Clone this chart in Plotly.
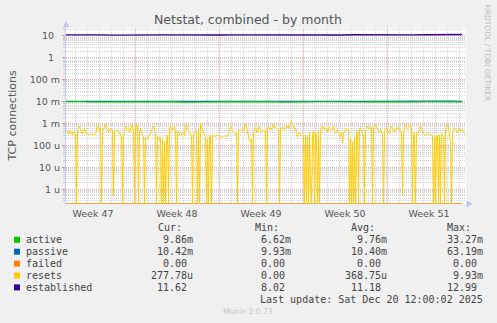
import pandas as pd
import plotly.graph_objects as go

# ------------------------------------------------------------------ data
weeks = ["Week 47", "Week 48", "Week 49", "Week 50", "Week 51"]
week_mid = ["2025-11-19 12:00", "2025-11-26 12:00", "2025-12-03 12:00",
            "2025-12-10 12:00", "2025-12-17 12:00"]
week_bounds = ["2025-11-23", "2025-11-30", "2025-12-07", "2025-12-14"]
y_tickvals = [10, 1, 0.1, 0.01, 1e-3, 1e-4, 1e-5, 1e-6]
y_ticktext = ["10\u00a0\u00a0", "1\u00a0\u00a0", "100 m", "10 m", "1 m", "100 u", "10 u", "1 u"]

t_start = pd.Timestamp("2025-11-17 06:00")
t_end = pd.Timestamp("2025-12-20 14:00")

# resets, 2-hour samples, in micro-units (u)
resets_u = [
    380, 460, 320, 400, 520, 350, 300, 420, 380, 330,          # 0-9
    0,
    450, 650, 780, 520, 400, 330, 460, 600, 380, 320, 350,     # 11-21
    320, 320, 330, 320, 320, 340, 300, 320,                    # 22-29
    500, 780, 600, 450, 650,                                   # 30-34
    0,
    400, 550, 800, 940, 700, 500, 380, 450, 600, 520,          # 36-45
    460, 0.5,
    460, 460, 460, 460, 460, 380, 300, 230,                    # 48-55
    0,
    300, 450, 780, 600, 500, 650, 400, 550, 900, 700,          # 57-66
    450, 0,
    500, 940, 700,
    0,
    400, 600, 350, 300, 250,
    0,
    220, 220, 230, 220, 300, 400, 550, 650, 780, 500,          # 79-88
    350, 0,
    260, 200, 180, 240,
    0, 200, 0, 150, 0,
    200, 300,
    0,
    600, 780, 550, 460, 650, 700, 500,
    0,
    400, 460, 320, 260, 300, 400, 350, 280,
    700, 940, 600, 450,
    450, 300, 250,
    0,
    300, 380, 500, 400,
    0, 600, 0,
    940, 700, 500, 350, 300, 250,
    0, 200, 0, 250, 300, 0,
    300, 280, 270, 260, 280, 300, 270, 260, 240, 230, 240, 260, 280, 250, 240, 300, 350,
    500, 780, 600, 450, 400,
    350, 300, 400,
    0,
    500, 550, 460, 500, 550, 450,
    650, 940, 700,
    400, 200, 157, 140, 200,
    0,
    400, 550, 650, 460, 380, 780, 600, 500, 400, 450, 500,
    450, 500,
    0,
    600, 700, 550, 650, 500, 750, 900, 650, 700, 600, 550,
    500, 0,
    650, 550, 700, 600, 650, 550, 700, 800, 600, 650, 1000,
    1300, 900,
    700, 550, 600, 300, 250, 320, 400, 320, 280, 300, 250,
    0, 300, 0, 250, 0, 400, 1.2, 0, 300, 450, 0, 400, 300, 0, 450, 0,
    500, 650, 780, 600, 550, 650, 450, 400, 600, 700, 550, 500,
    650, 780, 450, 350, 400, 550, 380, 300, 250, 400, 130, 350,
    500, 550, 600, 500, 550,
    0, 200, 0, 150, 0, 250, 0,
    300, 450,
    0,
    550, 650, 400, 350, 250,
    0,
    500, 650, 780, 600, 550, 700, 600,
    0,
    650, 800, 950, 700, 600, 450, 400, 550, 350, 300,
    0,
    450, 550, 650, 500, 400, 350, 600, 780, 550, 450, 400, 500, 650, 550, 700, 600,
    500, 400, 0.5, 300,
    700, 900, 650, 550, 600, 750, 800, 650,
    0, 400, 300, 0,
    350, 300, 450, 700, 800, 600, 400, 350, 300, 280, 320, 400, 350, 300, 280, 300,
    300, 0, 250, 0, 300, 280, 0, 300, 0, 350, 300, 250, 0, 500, 700,
    950, 700, 300, 130,
    0,
    300, 500, 650, 550, 450, 400, 550, 600, 450, 500, 550, 400, 350, 300,
]

# daily samples
active_m = [9.9, 10.2, 9.7, 9.8, 10.0, 9.6, 9.9, 9.7, 10.1, 9.8, 9.5, 9.9, 9.7, 9.8, 10.0, 9.6, 9.7,
            9.9, 9.5, 9.8, 9.7, 10.0, 9.9, 9.6, 9.8, 9.7, 9.9, 9.6, 9.8, 9.7, 9.9, 9.8, 9.7, 9.86]
passive_m = [10.4, 10.5, 10.3, 10.4, 10.4, 10.3, 10.5, 10.4, 10.4, 10.3, 10.4, 10.5, 10.4, 10.3, 10.4, 10.4, 10.5,
             10.4, 10.3, 10.4, 10.4, 10.5, 10.4, 10.3, 10.4, 10.4, 10.5, 10.4, 10.3, 10.4, 10.4, 10.5, 10.6, 10.42]
established = [11.2, 11.4, 11.1, 11.3, 11.0, 11.2, 11.5, 11.1, 11.3, 11.2, 11.0, 11.4, 11.2, 11.1, 11.3, 11.2, 11.0,
               11.2, 11.4, 11.1, 10.8, 11.3, 11.2, 11.1, 11.4, 11.2, 11.0, 11.3, 11.1, 11.2, 11.4, 11.2, 11.3, 11.62]
failed = [0, 0, 0, 0, 0, 0, 0, 0, 0, 0, 0, 0, 0, 0, 0, 0, 0,
          0, 0, 0, 0, 0, 0, 0, 0, 0, 0, 0, 0, 0, 0, 0, 0, 0]

series_names = ["active", "passive", "failed", "resets", "established"]
series_colors = ["#00CC00", "#0066B3", "#FF8000", "#FFCC00", "#330099"]
cur_vals = ["9.86m", "10.42m", "0.00", "277.78u", "11.62"]
min_vals = ["6.62m", "9.93m", "0.00", "0.00", "8.02"]
avg_vals = ["9.76m", "10.40m", "0.00", "368.75u", "11.18"]
max_vals = ["33.27m", "63.19m", "0.00", "9.93m", "12.99"]
last_update = "Last update: Sat Dec 20 12:00:02 2025"

# ------------------------------------------------------------------ layout constants
W, H = 497, 323
PL, PR, PT, PB = 66, 466, 28, 204
Y_LO, Y_HI = -6.671, 1.365
FLOOR = 10 ** Y_LO


def px(x):
    return (x - PL) / (PR - PL)


def py(y):
    return (PB - y) / (PB - PT)


def clamp(vals):
    return [v if v > 0 else FLOOR for v in vals]


resets = [v * 1e-6 for v in resets_u]
t2h = [t_start + pd.Timedelta(hours=2 * i + 1) for i in range(len(resets))]
tday = [t_start + pd.Timedelta(days=d) for d in range(len(active_m))]

fig = go.Figure()
fig.add_trace(go.Scatter(x=tday, y=[v * 1e-3 for v in passive_m], mode="lines",
                         line=dict(color=series_colors[1], width=1.1)))
fig.add_trace(go.Scatter(x=tday, y=[v * 1e-3 for v in active_m], mode="lines",
                         line=dict(color=series_colors[0], width=1.1)))
fig.add_trace(go.Scatter(x=tday, y=clamp(failed), mode="lines",
                         line=dict(color=series_colors[2], width=1.4)))
fig.add_trace(go.Scatter(x=t2h, y=clamp(resets), mode="lines",
                         line=dict(color=series_colors[3], width=1)))
fig.add_trace(go.Scatter(x=tday, y=established, mode="lines",
                         line=dict(color=series_colors[4], width=1.4)))
fig.update_traces(hoverinfo="skip", showlegend=False)

minor_y = [k * 10 ** d for d in range(-7, 2) for k in range(2, 10)]
GRID_MINOR = "#D6D6D6"
GRID_MAJOR = "rgba(240,110,110,0.6)"

fig.update_layout(
    width=W, height=H,
    margin=dict(l=PL, r=W - PR, t=PT, b=H - PB, pad=0),
    paper_bgcolor="#F0F0F0", plot_bgcolor="#FFFFFF",
    showlegend=False,
    font=dict(family="DejaVu Sans", color="#555555"),
)
fig.update_xaxes(
    type="date", range=[t_start, t_end],
    tickmode="array", tickvals=week_mid, ticktext=weeks,
    ticks="", showgrid=False, zeroline=False, showline=False,
    ticklabelstandoff=2,
    tickfont=dict(size=9.5, color="#555555"),
    minor=dict(tickmode="linear", tick0="2025-11-16", dtick=86400000,
               showgrid=True, gridcolor=GRID_MINOR, griddash="1px,1px", gridwidth=1, ticks=""),
)
fig.update_yaxes(
    type="log", range=[Y_LO, Y_HI],
    tickmode="array", tickvals=y_tickvals, ticktext=y_ticktext,
    showgrid=True, gridcolor=GRID_MAJOR, griddash="1px,1px", gridwidth=1,
    ticks="outside", ticklen=3, tickcolor="rgba(240,110,110,0.8)",
    showline=True, linecolor="#C4CCF2", linewidth=1, zeroline=False,
    tickfont=dict(size=9.5, color="#555555"),
    minor=dict(tickmode="array", tickvals=minor_y, showgrid=True, gridcolor=GRID_MINOR,
               griddash="1px,1px", gridwidth=1, ticks="outside", ticklen=2, tickcolor="#CCCCCC"),
)

shapes = []
for wb in week_bounds:
    shapes.append(dict(type="line", xref="x", yref="paper", x0=wb, x1=wb, y0=0, y1=1,
                       line=dict(color=GRID_MAJOR, width=1, dash="1px,1px"), layer="between"))
# axis arrows
ARROW = "#BFC8F2"
shapes.append(dict(type="path", xref="paper", yref="paper",
                   path=f"M {px(66)},{py(21)} L {px(62.5)},{py(27.5)} L {px(69.5)},{py(27.5)} Z",
                   fillcolor=ARROW, line=dict(width=0)))
shapes.append(dict(type="path", xref="paper", yref="paper",
                   path=f"M {px(473)},{py(204)} L {px(466.5)},{py(200.5)} L {px(466.5)},{py(207.5)} Z",
                   fillcolor=ARROW, line=dict(width=0)))

annotations = []


def text(x, y, s, size, color, anchor="left", family="DejaVu Sans", angle=0):
    annotations.append(dict(x=px(x), y=py(y), xref="paper", yref="paper", text=s, showarrow=False,
                            xanchor=anchor, yanchor="middle", textangle=angle,
                            borderpad=0, borderwidth=0,
                            font=dict(size=size, color=color, family=family)))


text(248, 19.3, "Netstat, combined - by month", 12.5, "#555555", anchor="center")
text(11.5, 116, "TCP connections", 11, "#555555", anchor="center", angle=-90)
text(487.5, 53, "RRDTOOL / TOBI OETIKER", 7.5, "#BBBBBB", anchor="center", angle=90)

MONO = "DejaVu Sans Mono"
LEG = "#444444"
for hx, h in zip([158, 255, 351, 447], ["Cur:", "Min:", "Avg:", "Max:"]):
    text(hx, 227.9, h, 10, LEG, family=MONO)

col_right = [193, 291, 387, 483]
row_y0, row_dy = 239.8, 11.9
for i, name in enumerate(series_names):
    ry = row_y0 + i * row_dy
    shapes.append(dict(type="rect", xref="paper", yref="paper",
                       x0=px(14), x1=px(20), y0=py(ry + 3), y1=py(ry - 3),
                       fillcolor=series_colors[i], line=dict(width=0)))
    text(26, ry, name, 10, LEG, family=MONO)
    for cr, vals in zip(col_right, [cur_vals, min_vals, avg_vals, max_vals]):
        s = vals[i]
        r = cr if s[-1].isalpha() else cr - 6.02
        text(r, ry, s, 10, LEG, anchor="right", family=MONO)

text(483, 299.4, last_update, 10, LEG, anchor="right", family=MONO)
text(248, 311.7, "Munin 2.0.73", 7.6, "#C4C4C4", anchor="center")

fig.update_layout(shapes=shapes, annotations=annotations)
fig.write_html("out.html")
